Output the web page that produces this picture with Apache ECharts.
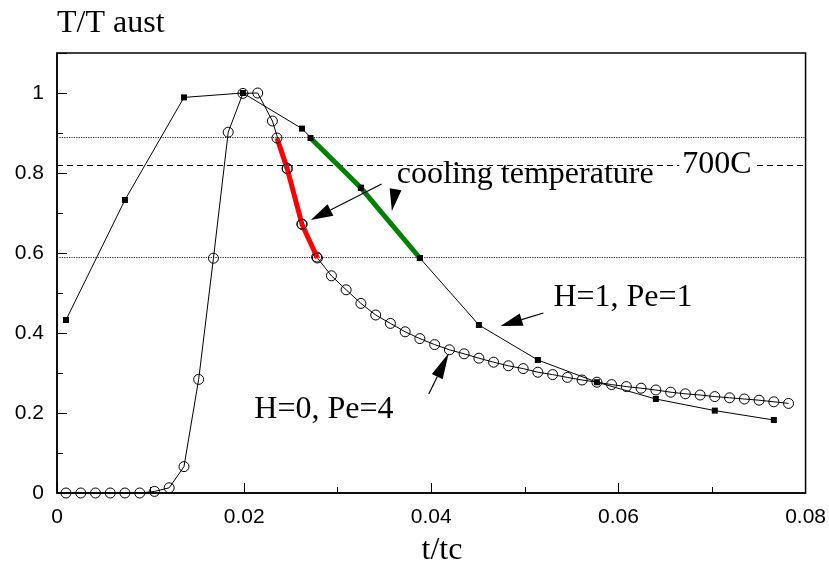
<!DOCTYPE html>
<html>
<head>
<meta charset="utf-8">
<script src="https://cdn.jsdelivr.net/npm/echarts@6/dist/echarts.min.js"></script>
<style>
  html, body { margin: 0; padding: 0; background: #fff; }
  #chart { width: 829px; height: 572px; }
</style>
</head>
<body>
<div id="chart"></div>
<script>
// Dimensionless time t/tc for the H=0, Pe=4 run
const timePe4 = [
  0.00096, 0.00254, 0.00411, 0.00569, 0.00726, 0.00884, 0.01042, 0.01199, 0.01357, 0.01514,
  0.01672, 0.01830, 0.01987, 0.02145, 0.02302, 0.02460, 0.02618, 0.02775, 0.02933, 0.03090,
  0.03248, 0.03406, 0.03563, 0.03721, 0.03878, 0.04036, 0.04194, 0.04351, 0.04509, 0.04666,
  0.04824, 0.04982, 0.05139, 0.05297, 0.05454, 0.05612, 0.05770, 0.05927, 0.06085, 0.06242,
  0.06400, 0.06558, 0.06715, 0.06873, 0.07030, 0.07188, 0.07346, 0.07503, 0.07661, 0.07818
];
// T/T aust for H=0, Pe=4
const tempPe4 = [
  0, 0, 0, 0, 0, 0, 0.004, 0.013, 0.066, 0.284,
  0.587, 0.902, 0.999, 1.0, 0.93, 0.811, 0.672, 0.590, 0.543, 0.508,
  0.474, 0.445, 0.424, 0.403, 0.386, 0.371, 0.358, 0.348, 0.337, 0.327,
  0.318, 0.311, 0.302, 0.296, 0.289, 0.2825, 0.277, 0.271, 0.266, 0.262,
  0.2575, 0.252, 0.248, 0.245, 0.241, 0.238, 0.235, 0.232, 0.228, 0.224
];
// t/tc and T/T aust for H=1, Pe=1
const timePe1 = [
  0.00096, 0.00726, 0.01357, 0.01987, 0.02618, 0.03248, 0.03878,
  0.04509, 0.05139, 0.05770, 0.06400, 0.07030, 0.07661
];
const tempPe1 = [
  0.4325, 0.7325, 0.989, 1.0, 0.911, 0.763, 0.5875,
  0.42, 0.3325, 0.277, 0.235, 0.206, 0.1825
];
// Cooling portions between the two dotted temperature levels
const coolTimePe4 = [0.02351, 0.02460, 0.02618, 0.02783];
const coolTempPe4 = [0.8875, 0.811, 0.672, 0.5875];
const coolTimePe1 = [0.02709, 0.03248, 0.03878];
const coolTempPe1 = [0.8875, 0.763, 0.5875];

// Horizontal reference levels
const upperLevel = 0.8875;
const level700C = 0.825;
const lowerLevel = 0.5875;

// Axis ticks
const xTicks = [0, 0.02, 0.04, 0.06, 0.08];
const yTicks = [0, 0.2, 0.4, 0.6, 0.8, 1];

const zip = (xs, ys) => xs.map((x, i) => [x, ys[i]]);

const serif = '"Liberation Serif", "Times New Roman", serif';
const sans = '"Liberation Sans", Arial, sans-serif';
const titleFont = '32px ' + serif;

const chart = echarts.init(document.getElementById('chart'), null, { renderer: 'canvas' });

const blackLine = { color: '#000', width: 1.5 };

const option = {
  animation: false,
  backgroundColor: '#fff',
  grid: {
    left: 57, right: 21, top: 53, bottom: 79,
    show: true, borderColor: '#000', borderWidth: 1.5, backgroundColor: 'transparent'
  },
  xAxis: {
    type: 'value',
    min: xTicks[0], max: xTicks[xTicks.length - 1], interval: 0.02,
    axisLine: { onZero: false, lineStyle: blackLine },
    axisTick: { inside: true, length: 10, lineStyle: { color: '#000', width: 1 } },
    minorTick: { show: true, splitNumber: 2, length: 6, lineStyle: { color: '#000', width: 1 } },
    axisLabel: { color: '#000', fontFamily: sans, fontSize: 21, margin: 14 },
    splitLine: { show: false }
  },
  yAxis: [
    {
      type: 'value', position: 'left',
      min: 0, max: 1.1, interval: 0.1,
      axisLine: { show: true, onZero: false, lineStyle: blackLine },
      axisTick: { inside: true, length: 6, lineStyle: { color: '#000', width: 1 } },
      axisLabel: { show: false },
      splitLine: { show: false }
    },
    {
      type: 'value', position: 'left',
      min: 0, max: 1.1, interval: 0.2,
      axisLine: { show: false },
      axisTick: { inside: true, length: 10, lineStyle: { color: '#000', width: 1 } },
      axisLabel: {
        color: '#000', fontFamily: sans, fontSize: 21, margin: 13,
        formatter: v => (yTicks.some(t => Math.abs(t - v) < 1e-6) ? String(+v.toFixed(1)) : '')
      },
      splitLine: { show: false }
    }
  ],
  series: [
    {
      name: 'H=1, Pe=1',
      type: 'line',
      data: zip(timePe1, tempPe1),
      symbol: 'rect', symbolSize: 6,
      itemStyle: { color: '#000' },
      lineStyle: { color: '#000', width: 1 },
      z: 3
    },
    {
      name: 'H=0, Pe=4',
      type: 'line',
      data: zip(timePe4, tempPe4),
      symbol: 'circle', symbolSize: 10,
      itemStyle: { color: 'rgba(0,0,0,0)', borderColor: '#000', borderWidth: 1 },
      lineStyle: { color: '#000', width: 1 },
      z: 3,
      markLine: {
        silent: true,
        symbol: 'none',
        label: { show: false },
        z: 1,
        data: [
          { yAxis: upperLevel, lineStyle: { color: '#222', width: 1, type: [1.2, 1.2] } },
          { yAxis: level700C, lineStyle: { color: '#000', width: 1.2, type: [6, 4] } },
          { yAxis: lowerLevel, lineStyle: { color: '#222', width: 1, type: [1.2, 1.2] } }
        ]
      }
    },
    {
      name: 'cooling H=0',
      type: 'line',
      data: zip(coolTimePe4, coolTempPe4),
      symbol: 'circle', symbolSize: 10,
      itemStyle: { color: 'rgba(0,0,0,0)', borderColor: '#000', borderWidth: 1 },
      lineStyle: { color: '#ff0000', width: 5 },
      z: 4
    },
    {
      name: 'cooling H=1',
      type: 'line',
      data: zip(coolTimePe1, coolTempPe1),
      symbol: 'rect', symbolSize: 6,
      itemStyle: { color: '#000' },
      lineStyle: { color: '#008000', width: 5 },
      z: 4
    }
  ]
};

chart.setOption(option);

// Annotations placed in data coordinates
const labels = [
  { text: 'cooling temperature', at: [0.03632, 0.795], bg: false },
  { text: '700C', at: [0.06650, 0.82], bg: true },
  { text: 'H=1, Pe=1', at: [0.05305, 0.48875], bg: false },
  { text: 'H=0, Pe=4', at: [0.02109, 0.2075], bg: false }
];
const arrows = [
  { tail: [0.03469, 0.7725], tip: [0.02713, 0.6825], len: 22, width: 13 },
  { tail: [0.03617, 0.7575], tip: [0.03579, 0.705], len: 22, width: 12 },
  { tail: [0.05198, 0.45], tip: [0.04740, 0.4175], len: 22, width: 13 },
  { tail: [0.03973, 0.2475], tip: [0.04186, 0.34925], len: 26, width: 12 }
];

const px = p => chart.convertToPixel({ gridIndex: 0 }, p);
const elements = [];

labels.forEach(l => {
  const p = px(l.at);
  const style = {
    text: l.text, x: p[0], y: p[1],
    font: titleFont, fill: '#000',
    align: 'left', verticalAlign: 'middle'
  };
  if (l.bg) { style.backgroundColor = '#fff'; style.padding = [0, 3]; }
  elements.push({ type: 'text', z: 20, style });
});

arrows.forEach(a => {
  const t0 = px(a.tail), t1 = px(a.tip);
  const dx = t1[0] - t0[0], dy = t1[1] - t0[1];
  const d = Math.hypot(dx, dy);
  const ux = dx / d, uy = dy / d;
  const bx = t1[0] - ux * a.len, by = t1[1] - uy * a.len;
  const nx = -uy * a.width / 2, ny = ux * a.width / 2;
  if (d > a.len + 1) {
    elements.push({
      type: 'line', z: 20,
      shape: { x1: t0[0], y1: t0[1], x2: bx, y2: by },
      style: { stroke: '#000', lineWidth: 1.2 }
    });
  }
  elements.push({
    type: 'polygon', z: 20,
    shape: { points: [[t1[0], t1[1]], [bx + nx, by + ny], [bx - nx, by - ny]] },
    style: { fill: '#000' }
  });
});

// Axis titles
elements.push({
  type: 'text', z: 20,
  style: { text: 'T/T aust', x: 57, y: 24, font: titleFont, fill: '#000', align: 'left', verticalAlign: 'middle' }
});
elements.push({
  type: 'text', z: 20,
  style: { text: 't/tc', x: 442, y: 551, font: titleFont, fill: '#000', align: 'center', verticalAlign: 'middle' }
});

chart.setOption({ graphic: { elements } });
</script>
</body>
</html>
